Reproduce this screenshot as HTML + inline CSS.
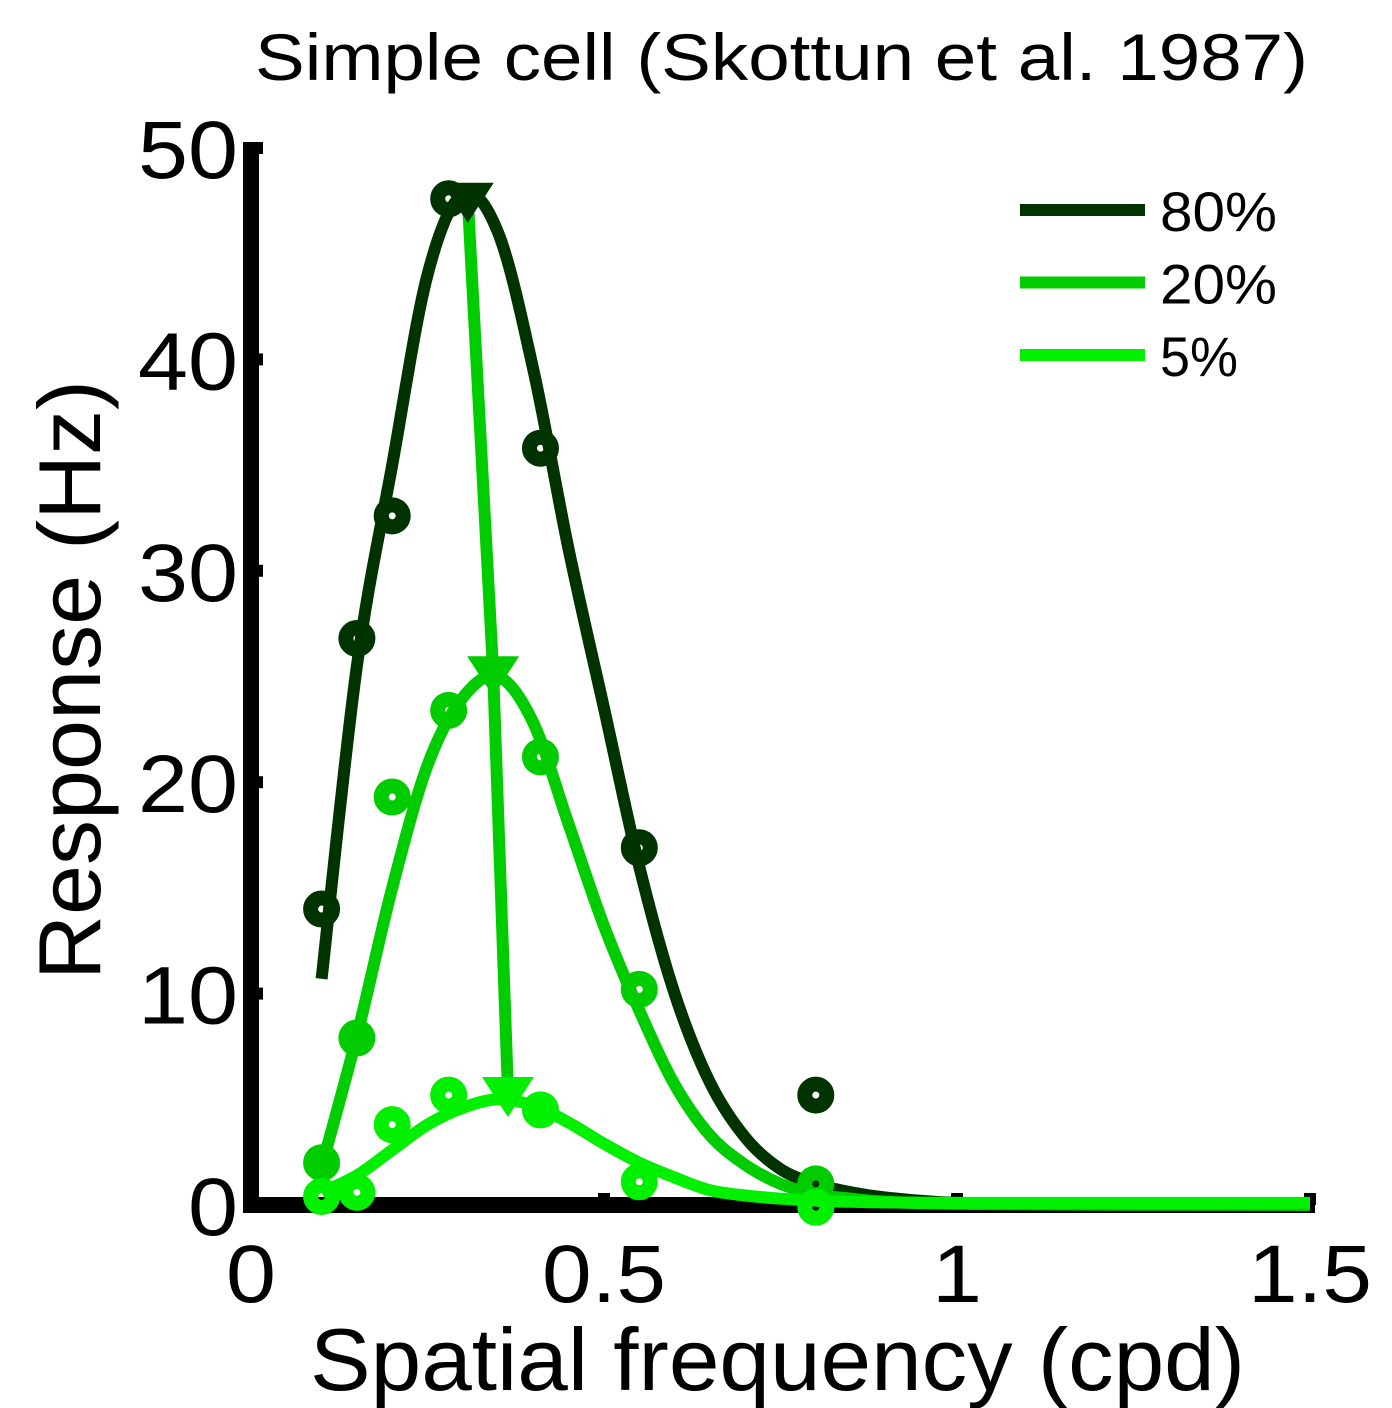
<!DOCTYPE html>
<html><head><meta charset="utf-8"><style>
body{margin:0;background:#fff}
svg{display:block;font-family:"Liberation Sans",Arial,sans-serif}
</style></head><body>
<svg id="chart" width="1392" height="1408" viewBox="0 0 1392 1408" xmlns="http://www.w3.org/2000/svg">
<text x="255" y="80" font-size="66" textLength="1053" lengthAdjust="spacingAndGlyphs">Simple cell (Skottun et al. 1987)</text>
<g id="plot"></g>
<text transform="translate(100,980) rotate(-90)" font-size="88" textLength="600" lengthAdjust="spacingAndGlyphs">Response (Hz)</text>
<text x="310" y="1390" font-size="88" textLength="935" lengthAdjust="spacingAndGlyphs">Spatial frequency (cpd)</text>
</svg>
<script>
const xTicks=[0,0.5,1,1.5];
const xTickLabels=["0","0.5","1","1.5"];
const yTicks=[0,10,20,30,40,50];
const yTickLabels=["0","10","20","30","40","50"];
const seriesNames=["80%","20%","5%"];
const dataX=[0.1,0.15,0.2,0.28,0.41,0.55,0.8];
const data80=[14,26.8,32.6,47.6,35.8,16.9,5.2];
const data20=[2,7.9,19.3,23.4,21.2,10.2,1];
const data5=[0.4,0.6,3.8,5.2,4.5,1.1,-0.1];
const fitX=[0.1,0.15,0.2,0.25,0.3,0.35,0.4,0.45,0.5,0.55,0.6,0.65,0.7,0.75,0.8,0.85,0.9,1.0,1.2,1.5];
const fit80=[10.7,25.5,35.0,44.0,47.8,46.0,39.5,31.0,23.5,16.0,10.0,5.8,3.2,1.7,1.0,0.6,0.35,0.1,0.02,0];
const fit20=[1.8,8.0,15.0,20.8,24.0,25.0,22.8,18.0,13.2,9.2,5.7,3.3,1.9,1.0,0.5,0.3,0.15,0.05,0.02,0];
const fit5=[0.6,1.4,2.6,3.8,4.6,5.0,4.7,3.9,2.9,2.0,1.3,0.7,0.45,0.3,0.2,0.15,0.12,0.1,0.1,0.1];
const peakX=[0.307,0.343,0.364];
const peakY=[47.6,25.2,5.3];
const colors=["#003300","#00cc00","#00f000"];

const X=v=>251+v*706;
const Y=v=>1205-v*21.14;
const NS="http://www.w3.org/2000/svg";
const plot=document.getElementById('plot');
function mk(tag,attrs){const e=document.createElementNS(NS,tag);for(const k in attrs)e.setAttribute(k,attrs[k]);plot.appendChild(e);return e;}
function smooth(pts){
  let d='M'+pts[0][0].toFixed(1)+' '+pts[0][1].toFixed(1);
  for(let i=0;i<pts.length-1;i++){
    const p0=pts[Math.max(0,i-1)],p1=pts[i],p2=pts[i+1],p3=pts[Math.min(pts.length-1,i+2)];
    const c1=[p1[0]+(p2[0]-p0[0])/6,p1[1]+(p2[1]-p0[1])/6];
    const c2=[p2[0]-(p3[0]-p1[0])/6,p2[1]-(p3[1]-p1[1])/6];
    d+=` C${c1[0].toFixed(1)} ${c1[1].toFixed(1)} ${c2[0].toFixed(1)} ${c2[1].toFixed(1)} ${p2[0].toFixed(1)} ${p2[1].toFixed(1)}`;
  }
  return d;
}

let ax=mk('line',{x1:251,y1:142,x2:251,y2:1213,stroke:'#000','stroke-width':16});


let bx=mk('line',{x1:243,y1:1205,x2:1315,y2:1205,stroke:'#000','stroke-width':16});


yTicks.forEach((t,i)=>{
  let tk=mk('line',{x1:251,y1:Y(t),x2:263,y2:Y(t),stroke:'#000','stroke-width':12});
  
  
  const lab=yTickLabels[i];
  let tx=mk('text',{x:238,y:Y(t)+30,'font-size':82,'text-anchor':'end',textLength:lab.length*50,lengthAdjust:'spacingAndGlyphs'});
  tx.textContent=lab;
  
  
});
xTicks.forEach((t,i)=>{
  let tk=mk('line',{x1:X(t),y1:1205,x2:X(t),y2:1193,stroke:'#000','stroke-width':12});
  
  
  const lab=xTickLabels[i];
  let tx=mk('text',{x:X(t),y:1302,'font-size':82,'text-anchor':'middle',textLength:lab.replace('.','').length*50+(lab.includes('.')?24:0),lengthAdjust:'spacingAndGlyphs'});
  tx.textContent=lab;
  
  
});

const fits=[fit80,fit20,fit5];
const datas=[data80,data20,data5];
fits.forEach((f,s)=>{
  const pts=fitX.map((x,i)=>[X(x),Y(f[i])]);
  let p=mk('path',{d:smooth(pts),fill:'none',stroke:colors[s],'stroke-width':12,'stroke-linejoin':'round'});
  
  
});
datas.forEach((dv,s)=>{
  dataX.forEach((x,i)=>{
    let c=mk('circle',{cx:X(x),cy:Y(dv[i]),r:11,fill:'none',stroke:colors[s],'stroke-width':15});
    
    
  });
});
const pd=peakX.map((x,i)=>(i?'L':'M')+X(x)+' '+Y(peakY[i])).join(' ');
let pl=mk('path',{d:pd,fill:'none',stroke:'#00cc00','stroke-width':12});


peakX.forEach((x,i)=>{
  const cx=X(x),cy=Y(peakY[i]);
  let t=mk('polygon',{points:`${cx-26},${cy-16} ${cx+26},${cy-16} ${cx},${cy+24}`,fill:colors[i]});
  
  
});
seriesNames.forEach((n,i)=>{
  const y=210+i*72.5;
  let l=mk('line',{x1:1020,y1:y,x2:1145,y2:y,stroke:colors[i],'stroke-width':12});
  
  
  let t=mk('text',{x:1160,y:y+21,'font-size':56,textLength:n.length*39,lengthAdjust:'spacingAndGlyphs'});
  t.textContent=n;
  
  
});
</script>
</body></html>
